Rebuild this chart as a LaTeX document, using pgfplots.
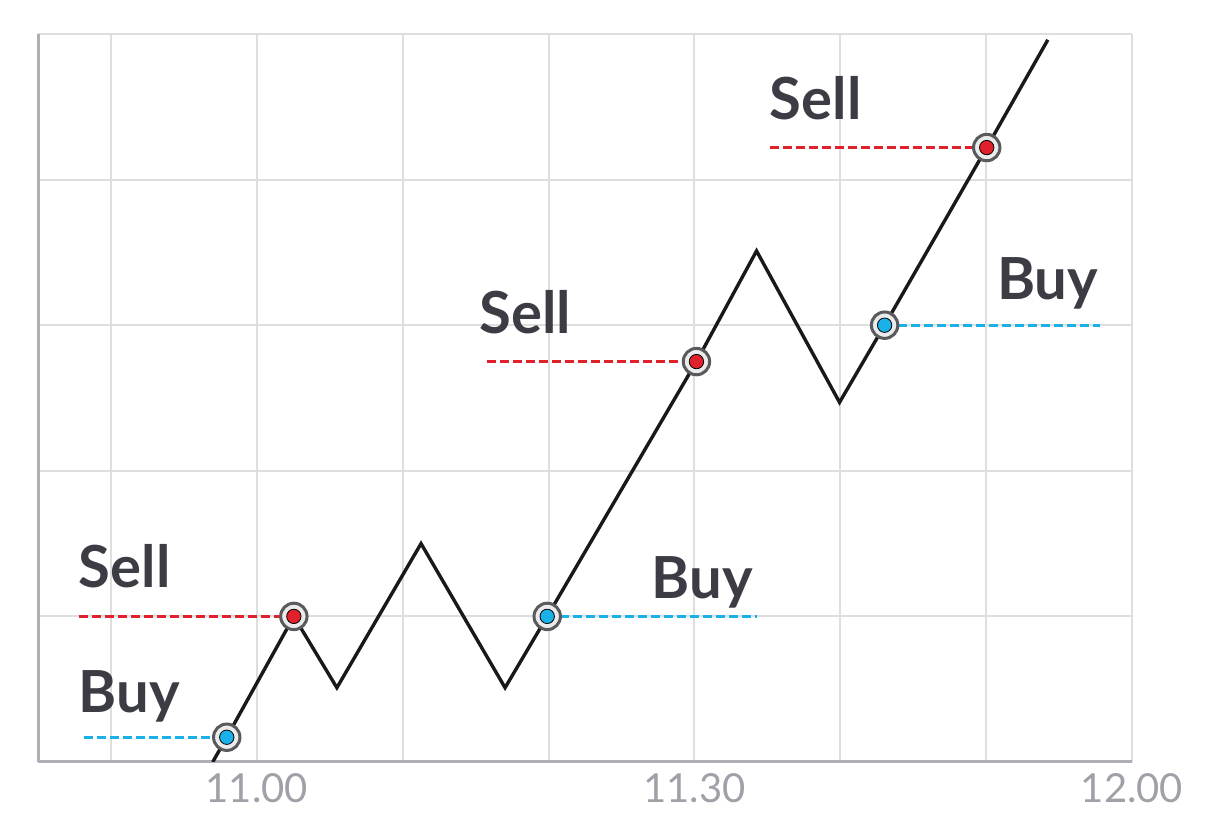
\documentclass[border=0pt]{standalone}
\usepackage{pgfplots}
\pgfplotsset{compat=1.18}
\usepackage{fontspec}
\setmainfont{Lato}
\definecolor{gridc}{HTML}{DEDEDE}
\definecolor{axc}{HTML}{AEAEB4}
\definecolor{tickc}{HTML}{A0A0A8}
\definecolor{txtc}{HTML}{3C3C44}
\definecolor{sellc}{HTML}{E0202A}
\definecolor{buyc}{HTML}{1AB0E8}
\definecolor{ringc}{HTML}{5A5A5E}
\begin{document}
\begin{tikzpicture}
\useasboundingbox (-19pt,-38pt) rectangle (585pt,381pt);
\begin{axis}[
  width=547pt, height=364pt, scale only axis,
  xmin=-15, xmax=60, ymin=0, ymax=5,
  axis x line=bottom, axis y line=left,
  axis line style={-, draw=axc, line width=1.5pt},
  xtick={-10,0,...,60}, xticklabels={,11.00,,,11.30,,,12.00},
  ytick={1,2,3,4,5}, yticklabels={},
  major tick length=0pt,
  grid=major, major grid style={draw=gridc, line width=1pt},
  /pgf/number format/assume math mode=true,
  xticklabel style={font=\fontsize{20}{24}\selectfont, text=tickc, yshift=-2pt},
  clip=true,
]
% dashed reference lines
\addplot[buyc, line width=1.5pt, dash pattern=on 4.5pt off 2pt] coordinates {(-11.88,0.17) (-2.06,0.17)};
\addplot[sellc, line width=1.5pt, dash pattern=on 4.5pt off 2pt] coordinates {(-12.22,1.0) (2.54,1.0)};
\addplot[buyc, line width=1.5pt, dash pattern=on 4.5pt off 2pt] coordinates {(19.91,1.0) (34.26,1.0)};
\addplot[sellc, line width=1.5pt, dash pattern=on 4.5pt off 2pt] coordinates {(15.79,2.75) (30.14,2.75)};
\addplot[buyc, line width=1.5pt, dash pattern=on 4.5pt off 2pt] coordinates {(43.04,3.0) (57.8,3.0)};
\addplot[sellc, line width=1.5pt, dash pattern=on 4.5pt off 2pt] coordinates {(35.15,4.22) (50.04,4.22)};
% price line
\addplot[black!90, line width=1.7pt, line join=miter] coordinates {
(-3.02,0) (-2.06,0.17) (2.54,1.0) (5.49,0.51) (11.26,1.50) (17.02,0.51)
(19.91,1.0) (30.14,2.75) (34.26,3.51) (39.95,2.47) (43.04,3.0) (50.04,4.22) (54.23,4.96)};
% markers: rings
\addplot[only marks, mark=*, mark size=6.6pt, mark options={draw=ringc, fill=white!92!black, line width=1.5pt}] coordinates {
(-2.06,0.17) (2.54,1.0) (19.91,1.0) (30.14,2.75) (43.04,3.0) (50.04,4.22)};
% inner dots
\addplot[only marks, mark=*, mark size=3.6pt, mark options={draw=none, fill=buyc}] coordinates {
(-2.06,0.17) (19.91,1.0) (43.04,3.0)};
\addplot[only marks, mark=*, mark size=3.6pt, mark options={draw=none, fill=sellc}] coordinates {
(2.54,1.0) (30.14,2.75) (50.04,4.22)};
% labels
\begin{scope}[every node/.style={anchor=base west, inner sep=0pt, text=txtc, font=\fontsize{29}{34}\selectfont\bfseries}]
\node at (axis cs:-12.22,0.343) {Buy};
\node at (axis cs:-12.22,1.20) {Sell};
\node at (axis cs:27.05,1.126) {Buy};
\node at (axis cs:15.24,2.946) {Sell};
\node at (axis cs:50.73,3.173) {Buy};
\node at (axis cs:35.15,4.41) {Sell};
\end{scope}
\end{axis}
\end{tikzpicture}
\end{document}
